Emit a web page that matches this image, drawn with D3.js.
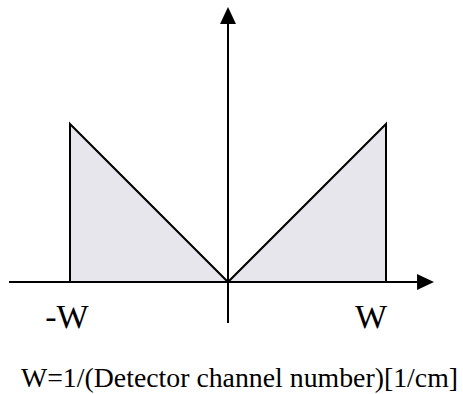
<!DOCTYPE html>
<html>
<head>
<meta charset="utf-8">
<script src="https://cdn.jsdelivr.net/npm/d3@7/dist/d3.min.js"></script>
<style>
  html, body { margin: 0; padding: 0; background: #fff; }
  svg { display: block; }
</style>
</head>
<body>
<svg id="chart" width="463" height="394"></svg>
<script>
// Ramp filter |f| over the band [-W, W], in units of W
const freq = [-1, 0, 1];
const gain = [1, 0, 1];

// Extent of the drawn axes (same units)
const freqAxisExtent = [-1.386, 1.304];
const gainAxisExtent = [-0.26, 1.734];

// Band-edge labels
const edgeValues = [-1, 1];
const edgeLabels = ["-W", "W"];

const caption = "W=1/(Detector channel number)[1/cm]";

const serif = "'Liberation Serif', 'Times New Roman', Times, 'DejaVu Serif', serif";

const svg = d3.select("#chart");

const x = d3.scaleLinear().domain([-1, 1]).range([70, 386]);
const y = d3.scaleLinear().domain([0, 1]).range([282, 124]);

// Filled area under the ramp
const area = d3.area()
  .x((d, i) => x(freq[i]))
  .y0(y(0))
  .y1((d, i) => y(gain[i]));

svg.append("path")
  .datum(freq)
  .attr("d", area)
  .attr("fill", "#e6e6ec")
  .attr("stroke", "none");

// Outline: vertical band edges plus the V-shaped ramp
const outline = [[freq[0], 0]]
  .concat(freq.map((f, i) => [f, gain[i]]))
  .concat([[freq[freq.length - 1], 0]]);

svg.append("path")
  .datum(outline)
  .attr("d", d3.line().x(d => x(d[0])).y(d => y(d[1])))
  .attr("fill", "none")
  .attr("stroke", "#000")
  .attr("stroke-width", 2)
  .attr("stroke-linejoin", "miter");

// Arrowhead marker
const defs = svg.append("defs");
defs.append("marker")
  .attr("id", "arrow")
  .attr("viewBox", "0 0 17 16")
  .attr("refX", 0)
  .attr("refY", 8)
  .attr("markerUnits", "userSpaceOnUse")
  .attr("markerWidth", 17)
  .attr("markerHeight", 16)
  .attr("orient", "auto")
  .append("path")
  .attr("d", "M0,0 L17,8 L0,16 Z")
  .attr("fill", "#000");

// Horizontal (frequency) axis
svg.append("line")
  .attr("x1", x(freqAxisExtent[0]))
  .attr("x2", x(freqAxisExtent[1]) - 17)
  .attr("y1", y(0))
  .attr("y2", y(0))
  .attr("stroke", "#000")
  .attr("stroke-width", 2)
  .attr("marker-end", "url(#arrow)");

// Vertical (gain) axis
svg.append("line")
  .attr("x1", x(0))
  .attr("x2", x(0))
  .attr("y1", y(gainAxisExtent[0]))
  .attr("y2", y(gainAxisExtent[1]) + 16)
  .attr("stroke", "#000")
  .attr("stroke-width", 2)
  .attr("marker-end", "url(#arrow)");

// Band-edge labels
const labelShift = [-3, -15];
svg.selectAll("text.edge")
  .data(edgeValues)
  .join("text")
  .attr("class", "edge")
  .attr("x", (d, i) => x(d) + labelShift[i])
  .attr("y", 328)
  .attr("text-anchor", "middle")
  .attr("font-family", serif)
  .attr("font-size", 34)
  .attr("fill", "#000")
  .text((d, i) => edgeLabels[i]);

// Caption
svg.append("text")
  .attr("x", 239.5)
  .attr("y", 387)
  .attr("text-anchor", "middle")
  .attr("font-family", serif)
  .attr("font-size", 27.8)
  .attr("fill", "#000")
  .text(caption);
</script>
</body>
</html>
